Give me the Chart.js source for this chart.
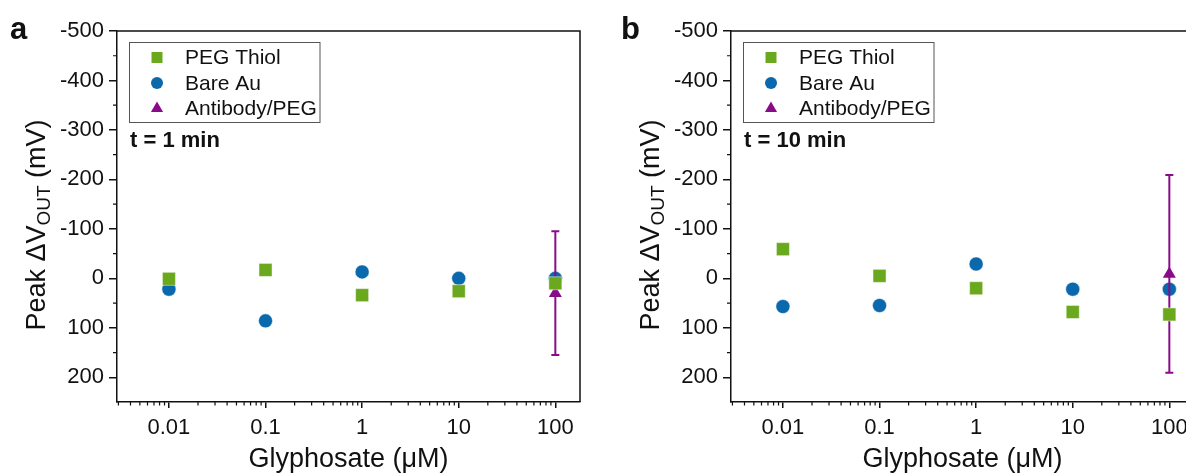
<!DOCTYPE html>
<html>
<head>
<meta charset="utf-8">
<script src="https://cdn.jsdelivr.net/npm/chart.js@4.4.0/dist/chart.umd.min.js"></script>
<style>
html, body { margin:0; padding:0; overflow:hidden; background:#fff; }
#wrap { position:relative; width:1186px; height:474px; overflow:hidden; }
.panel { position:absolute; top:0; width:600px; height:474px; }
</style>
</head>
<body>
<div id="wrap">
  <div class="panel" style="left:0"><canvas id="chartA" width="600" height="474"></canvas></div>
  <div class="panel" style="left:614px"><canvas id="chartB" width="600" height="474"></canvas></div>
</div>
<script>
// glyphosate concentrations (uM)
const concentrations = [0.01, 0.1, 1, 10, 100];
const antibodyConc = [100];

// panel a, t = 1 min (mV, positive = down)
const pegThiol1 = [1, -17, 34, 26, 10];
const bareAu1 = [22, 86, -13, 0, 0];
const antibody1 = [30];
const antibodyErr1 = [125];

// panel b, t = 10 min
const pegThiol10 = [-59, -5, 20, 68, 73];
const bareAu10 = [57, 55, -29, 22, 22];
const antibody10 = [-9];
const antibodyErr10 = [200];

const xTicks = [0.01, 0.1, 1, 10, 100];
const yTicks = [-500, -400, -300, -200, -100, 0, 100, 200];

const GREEN = '#6aa81e', BLUE = '#0a69ad', PURPLE = '#8a0b8a', INK = '#111';
const FONT = '"Liberation Sans", Arial, sans-serif';

function drawMarker(ctx, style, x, y, r, color){
  ctx.fillStyle = color;
  ctx.beginPath();
  if(style === 'rect'){
    ctx.rect(x - r, y - r, 2*r, 2*r);
  } else if(style === 'circle'){
    ctx.arc(x, y, r, 0, Math.PI*2);
  } else {
    ctx.moveTo(x, y - r);
    ctx.lineTo(x + r*0.87, y + r*0.5);
    ctx.lineTo(x - r*0.87, y + r*0.5);
    ctx.closePath();
  }
  ctx.fill();
}

const panelDecor = {
  id: 'panelDecor',
  afterDatasetDraw(chart, args, opts){
    // error bars go over squares/circles but under the triangle
    if(args.index !== 1) return;
    const ctx = chart.ctx, ys = chart.scales.y;
    const ds = chart.data.datasets[2];
    const meta = chart.getDatasetMeta(2);
    ctx.save();
    ctx.strokeStyle = PURPLE; ctx.lineWidth = 2;
    meta.data.forEach((pt, i) => {
      const v = ds.data[i].y, e = opts.errors[i];
      const y1 = ys.getPixelForValue(v - e), y2 = ys.getPixelForValue(v + e);
      ctx.beginPath();
      ctx.moveTo(pt.x, y1); ctx.lineTo(pt.x, y2);
      ctx.moveTo(pt.x - 4, y1); ctx.lineTo(pt.x + 4, y1);
      ctx.moveTo(pt.x - 4, y2); ctx.lineTo(pt.x + 4, y2);
      ctx.stroke();
    });
    ctx.restore();
  },
  afterDraw(chart, args, opts){
    const ctx = chart.ctx, ca = chart.chartArea;
    const xs = chart.scales.x, ys = chart.scales.y;
    ctx.save();
    // top and right frame lines
    ctx.strokeStyle = INK; ctx.lineWidth = 1.5;
    ctx.beginPath();
    ctx.moveTo(ca.left, ca.top); ctx.lineTo(ca.right, ca.top); ctx.lineTo(ca.right, ca.bottom);
    ctx.stroke();

    // minor ticks
    ctx.lineWidth = 1.2;
    ctx.beginPath();
    for(let d = 0.001; d < 1000; d *= 10){
      for(let k = 2; k <= 9; k++){
        const v = k*d;
        if(v < xs.min || v > xs.max) continue;
        const px = xs.getPixelForValue(v);
        ctx.moveTo(px, ca.bottom); ctx.lineTo(px, ca.bottom + 3.5);
      }
    }
    for(let v = -450; v < 250; v += 100){
      const py = ys.getPixelForValue(v);
      ctx.moveTo(ca.left, py); ctx.lineTo(ca.left - 4, py);
    }
    ctx.stroke();

    // legend box
    ctx.strokeStyle = '#555'; ctx.lineWidth = 1;
    ctx.strokeRect(129.5, 42.5, 190.5, 80);
    ctx.font = '21px ' + FONT;
    ctx.textBaseline = 'middle'; ctx.textAlign = 'left';
    const sizes = [5.5, 6, 7];
    chart.data.datasets.forEach((ds, i) => {
      const y = 57.5 + i*25.5;
      drawMarker(ctx, ds.pointStyle, 157, y, sizes[i], ds.backgroundColor);
      ctx.fillStyle = INK;
      ctx.fillText(ds.label, 185, y + 1);
    });

    // time note
    ctx.font = 'bold 22px ' + FONT;
    ctx.textBaseline = 'alphabetic';
    ctx.fillText(opts.note, 130, 146.5);

    // panel letter
    ctx.font = 'bold 31px ' + FONT;
    ctx.fillText(opts.letter, opts.letterX, 38.5);

    // x title
    ctx.font = '27px ' + FONT;
    ctx.textAlign = 'center';
    ctx.fillText('Glyphosate (\u03bcM)', (ca.left + ca.right)/2, 467);

    // y title with subscript
    const main = 'Peak \u0394V', sub = 'OUT', tail = ' (mV)';
    ctx.font = '27px ' + FONT;
    const w1 = ctx.measureText(main).width, w3 = ctx.measureText(tail).width;
    ctx.font = '19px ' + FONT;
    const w2 = ctx.measureText(sub).width;
    const total = w1 + w2 + w3;
    ctx.translate(45, 225 + total/2);
    ctx.rotate(-Math.PI/2);
    ctx.textAlign = 'left';
    ctx.font = '27px ' + FONT;
    ctx.fillText(main, 0, 0);
    ctx.font = '19px ' + FONT;
    ctx.fillText(sub, w1, 5);
    ctx.font = '27px ' + FONT;
    ctx.fillText(tail, w1 + w2, 0);
    ctx.restore();
  }
};

function makePanel(id, peg, bare, ab, err, letter, note, letterX){
  const tickFont = { family: FONT, size: 22 };
  return new Chart(document.getElementById(id), {
    type: 'scatter',
    data: {
      datasets: [
        { label: 'PEG Thiol', data: concentrations.map((c, i) => ({ x: c, y: peg[i] })),
          pointStyle: 'rect', pointRadius: 9.2, backgroundColor: GREEN, borderColor: 'rgba(255,255,255,0.45)', borderWidth: 1 },
        { label: 'Bare Au', data: concentrations.map((c, i) => ({ x: c, y: bare[i] })),
          pointStyle: 'circle', pointRadius: 7, backgroundColor: BLUE, borderColor: 'rgba(255,255,255,0.45)', borderWidth: 1 },
        { label: 'Antibody/PEG', data: antibodyConc.map((c, i) => ({ x: c, y: ab[i] })),
          pointStyle: 'triangle', pointRadius: 7.5, backgroundColor: PURPLE, borderColor: PURPLE, borderWidth: 0 }
      ]
    },
    options: {
      responsive: false, animation: false, events: [],
      layout: { padding: { top: 31, right: 20, left: 0, bottom: 0 } },
      plugins: {
        legend: { display: false }, tooltip: { enabled: false },
        panelDecor: { errors: err, letter: letter, note: note, letterX: letterX }
      },
      scales: {
        x: {
          type: 'logarithmic', min: 0.0029, max: 180,
          afterFit: s => { s.height = 72; },
          afterBuildTicks: s => { s.ticks = xTicks.map(v => ({ value: v })); },
          ticks: { callback: v => String(v), font: tickFont, color: INK, padding: 7, maxRotation: 0, autoSkip: false },
          grid: { drawOnChartArea: false, drawTicks: true, tickLength: 6, color: INK, lineWidth: 1.5 },
          border: { color: INK, width: 1.5 }
        },
        y: {
          min: -500, max: 250, reverse: true,
          afterFit: s => { s.width = 117; },
          afterBuildTicks: s => { s.ticks = yTicks.map(v => ({ value: v })); },
          ticks: { callback: v => String(v), font: tickFont, color: INK, padding: 5, autoSkip: false },
          grid: { drawOnChartArea: false, drawTicks: true, tickLength: 8, color: INK, lineWidth: 1.5 },
          border: { color: INK, width: 1.5 }
        }
      }
    },
    plugins: [panelDecor]
  });
}

makePanel('chartA', pegThiol1, bareAu1, antibody1, antibodyErr1, 'a', 't = 1 min', 10);
makePanel('chartB', pegThiol10, bareAu10, antibody10, antibodyErr10, 'b', 't = 10 min', 7);
</script>
</body>
</html>
